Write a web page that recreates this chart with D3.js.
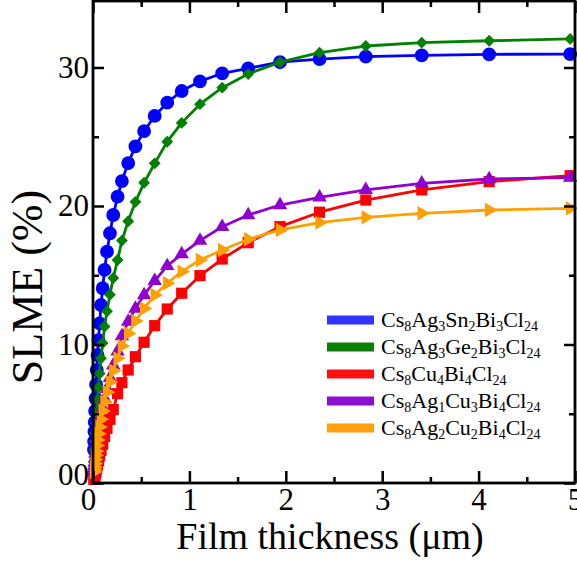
<!DOCTYPE html>
<html>
<head>
<meta charset="utf-8">
<script src="https://cdn.jsdelivr.net/npm/d3@7"></script>
<style>
  html, body { margin: 0; padding: 0; background: #fff; }
  svg { display: block; font-family: "Liberation Serif", "Times New Roman", serif; }
</style>
</head>
<body>
<svg id="chart" width="577" height="561"></svg>
<script>
// Film thickness grid (µm), shared by all compounds
const thickness = [4.95, 4.11, 3.41, 2.83, 2.35, 1.94, 1.61, 1.34, 1.11, 0.92, 0.77, 0.64, 0.53, 0.44, 0.365, 0.30, 0.255, 0.21, 0.176, 0.145, 0.12, 0.10, 0.083, 0.069, 0.057, 0.047, 0.039, 0.032, 0.027, 0.022, 0.018, 0.015, 0.012, 0.010];

// SLME (%) for each compound at the thicknesses above
const slmeAg3Sn2 = [30.97, 30.95, 30.88, 30.78, 30.6, 30.38, 29.94, 29.58, 29.0, 28.3, 27.46, 26.5, 25.4, 24.3, 23.1, 21.8, 20.67, 19.35, 18.03, 16.7, 15.38, 14.06, 12.85, 11.53, 10.32, 9.24, 8.16, 7.1, 6.1, 5.2, 4.4, 3.7, 3.0, 2.4];
const slmeAg3Ge2 = [32.06, 31.93, 31.79, 31.55, 31.07, 30.38, 29.53, 28.54, 27.35, 26.0, 24.64, 23.08, 21.68, 20.3, 18.9, 17.5, 16.1, 14.8, 13.6, 12.4, 11.3, 10.1, 9.0, 7.9, 6.9, 6.0, 5.1, 4.3, 3.6, 3.0, 2.4, 1.9, 1.5, 1.2];
const slmeCu4 = [22.19, 21.76, 21.16, 20.43, 19.55, 18.51, 17.35, 16.17, 14.97, 13.7, 12.56, 11.36, 10.16, 9.12, 8.16, 7.24, 6.45, 5.3, 4.6, 3.95, 3.35, 2.8, 2.35, 1.95, 1.6, 1.3, 1.05, 0.85, 0.7, 0.57, 0.47, 0.39, 0.31, 0.26];
const slmeAg1Cu3 = [22.05, 21.95, 21.64, 21.16, 20.63, 20.07, 19.35, 18.5, 17.5, 16.53, 15.67, 14.6, 13.57, 12.6, 11.65, 10.6, 9.5, 8.5, 7.6, 6.8, 6.1, 5.4, 4.8, 4.25, 3.75, 3.3, 2.85, 2.45, 2.1, 1.8, 1.5, 1.25, 1.05, 0.85];
const slmeAg2Cu2 = [19.83, 19.71, 19.47, 19.18, 18.8, 18.27, 17.6, 16.82, 16.1, 15.26, 14.42, 13.57, 12.6, 11.7, 10.8, 9.9, 9.0, 8.1, 7.3, 6.55, 5.85, 5.2, 4.6, 4.05, 3.55, 3.1, 2.7, 2.3, 2.0, 1.7, 1.4, 1.15, 0.95, 0.8];

// Legend labels as [text, subscript] pieces
const labelAg3Sn2 = [["Cs", "8"], ["Ag", "3"], ["Sn", "2"], ["Bi", "3"], ["Cl", "24"]];
const labelAg3Ge2 = [["Cs", "8"], ["Ag", "3"], ["Ge", "2"], ["Bi", "3"], ["Cl", "24"]];
const labelCu4 = [["Cs", "8"], ["Cu", "4"], ["Bi", "4"], ["Cl", "24"]];
const labelAg1Cu3 = [["Cs", "8"], ["Ag", "1"], ["Cu", "3"], ["Bi", "4"], ["Cl", "24"]];
const labelAg2Cu2 = [["Cs", "8"], ["Ag", "2"], ["Cu", "2"], ["Bi", "4"], ["Cl", "24"]];

// Axis ticks
const xMajorTicks = [0, 1, 2, 3, 4, 5];
const xTickLabels = ["0", "1", "2", "3", "4", "5"];
const xMinorTicks = [0.5, 1.5, 2.5, 3.5, 4.5];
const yMajorTicks = [0, 10, 20, 30];
const yTickLabels = ["00", "10", "20", "30"];
const yMinorTicks = [5, 15, 25];

const series = [
  { values: slmeAg3Sn2, label: labelAg3Sn2, color: "#0000ff", legendColor: "#3333ff", symbol: d3.symbolCircle, size: 150, rotate: 0 },
  { values: slmeAg3Ge2, label: labelAg3Ge2, color: "#008000", legendColor: "#0a800a", symbol: d3.symbolSquare, size: 70, rotate: 45 },
  { values: slmeCu4, label: labelCu4, color: "#ff0000", legendColor: "#ff1010", symbol: d3.symbolSquare, size: 125, rotate: 0 },
  { values: slmeAg1Cu3, label: labelAg1Cu3, color: "#8f00d0", legendColor: "#8a10d0", symbol: d3.symbolTriangle, size: 90, rotate: 0 },
  { values: slmeAg2Cu2, label: labelAg2Cu2, color: "#ffa000", legendColor: "#ffa010", symbol: d3.symbolTriangle, size: 90, rotate: 90 }
];

const svg = d3.select("#chart");
const plotLeft = 93, plotRight = 575, plotTop = 1, plotBottom = 483;

const x = d3.scaleLinear().domain([0, 5]).range([plotLeft, plotRight]);
const y = d3.scaleLinear().domain([0, 34.8]).range([plotBottom, plotTop]);

// Curves and markers
const line = d3.line().x((d) => x(d[0])).y((d) => y(d[1]));
series.forEach((s) => {
  const pts = thickness.map((t, i) => [t, s.values[i]]);
  const g = svg.append("g");
  g.append("path")
    .datum(pts)
    .attr("fill", "none")
    .attr("stroke", s.color)
    .attr("stroke-width", 2.8)
    .attr("stroke-linejoin", "round")
    .attr("d", line);
  const sym = d3.symbol().type(s.symbol).size(s.size);
  g.selectAll("path.pt")
    .data(pts)
    .join("path")
    .attr("class", "pt")
    .attr("fill", s.color)
    .attr("d", sym)
    .attr("transform", (d) => `translate(${x(d[0])},${y(d[1])}) rotate(${s.rotate})`);
});

// Axes with inward ticks on all four sides
const tickStyle = (g) => {
  g.select(".domain").remove();
  g.selectAll(".tick line").attr("stroke", "#000").attr("stroke-width", 2.5);
};
const labelFont = (g) => g.selectAll("text").attr("font-size", 31).attr("fill", "#000").attr("font-family", "Liberation Serif, serif");

svg.append("g").attr("transform", `translate(0,${plotBottom})`)
  .call(d3.axisBottom(x).tickValues(xMajorTicks).tickSize(-12).tickPadding(5).tickFormat((d, i) => xTickLabels[i]))
  .call(tickStyle).call(labelFont)
  .call((g) => g.selectAll("text").filter((d) => d === 0).attr("dx", -5));
svg.append("g").attr("transform", `translate(0,${plotBottom})`)
  .call(d3.axisBottom(x).tickValues(xMinorTicks).tickSize(-6).tickFormat(""))
  .call(tickStyle);
svg.append("g").attr("transform", `translate(0,${plotTop})`)
  .call(d3.axisTop(x).tickValues(xMajorTicks).tickSize(-12).tickFormat(""))
  .call(tickStyle);
svg.append("g").attr("transform", `translate(0,${plotTop})`)
  .call(d3.axisTop(x).tickValues(xMinorTicks).tickSize(-6).tickFormat(""))
  .call(tickStyle);

svg.append("g").attr("transform", `translate(${plotLeft},0)`)
  .call(d3.axisLeft(y).tickValues(yMajorTicks).tickSize(-11).tickPadding(4).tickFormat((d, i) => yTickLabels[i]))
  .call(tickStyle).call(labelFont)
  .call((g) => g.selectAll("text").filter((d) => d === 0).attr("dy", "0.05em"));
svg.append("g").attr("transform", `translate(${plotLeft},0)`)
  .call(d3.axisLeft(y).tickValues(yMinorTicks).tickSize(-6).tickFormat(""))
  .call(tickStyle);
svg.append("g").attr("transform", `translate(${plotRight},0)`)
  .call(d3.axisRight(y).tickValues(yMajorTicks).tickSize(-11).tickFormat(""))
  .call(tickStyle);
svg.append("g").attr("transform", `translate(${plotRight},0)`)
  .call(d3.axisRight(y).tickValues(yMinorTicks).tickSize(-6).tickFormat(""))
  .call(tickStyle);

// Frame
svg.append("rect")
  .attr("x", plotLeft).attr("y", plotTop)
  .attr("width", plotRight - plotLeft).attr("height", plotBottom - plotTop)
  .attr("fill", "none").attr("stroke", "#000").attr("stroke-width", 2.8);

// Axis titles
svg.append("text")
  .attr("x", (plotLeft + plotRight) / 2 - 4)
  .attr("y", 549)
  .attr("text-anchor", "middle")
  .attr("font-size", 38)
  .text("Film thickness (\u03bcm)");
svg.append("text")
  .attr("transform", `translate(42,${287}) rotate(-90)`)
  .attr("text-anchor", "middle")
  .attr("font-size", 44)
  .text("SLME (%)");

// Legend: chemical formulas with subscripted counts
const legend = svg.append("g").attr("transform", "translate(327,320)");
series.forEach((s, i) => {
  const row = legend.append("g").attr("transform", `translate(0,${i * 27})`);
  row.append("rect").attr("x", 0).attr("y", -4.5).attr("width", 47).attr("height", 9).attr("fill", s.legendColor);
  const t = row.append("text").attr("x", 54).attr("y", 7).attr("font-size", 22);
  s.label.forEach(([main, sub], j) => {
    t.append("tspan").attr("dy", j === 0 ? 0 : -4).text(main);
    t.append("tspan").attr("font-size", 14).attr("dy", 4).text(sub);
  });
});
</script>
</body>
</html>
